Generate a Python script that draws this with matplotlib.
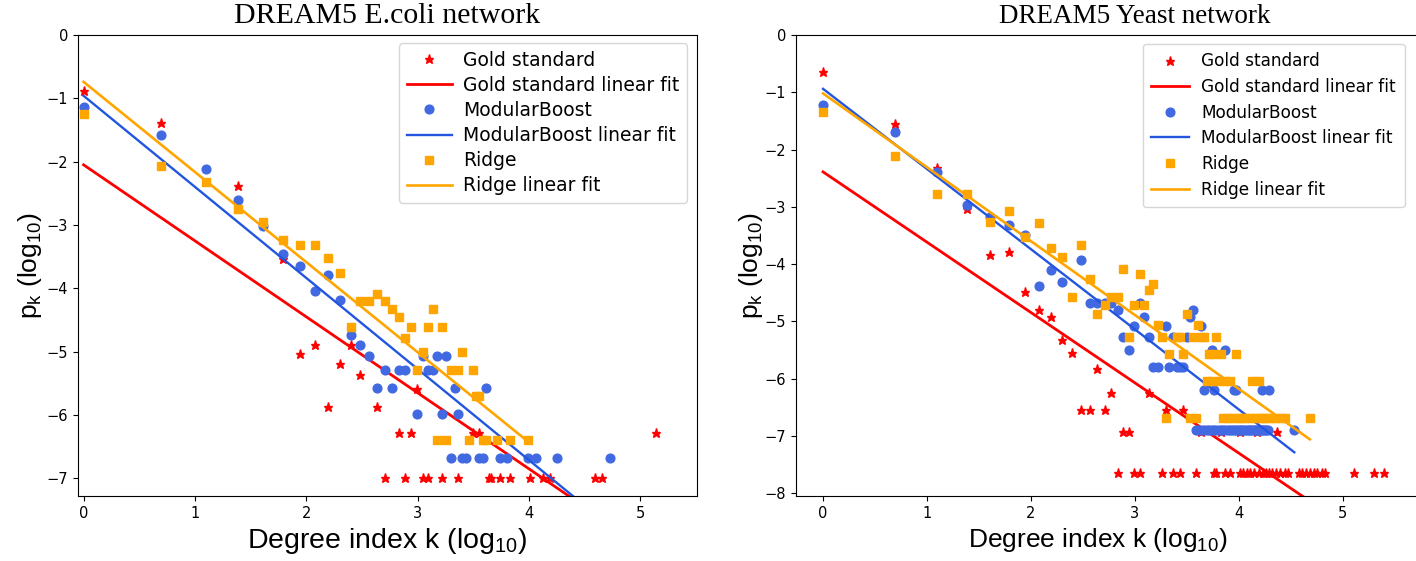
import matplotlib.pyplot as plt
import numpy as np

# DREAM5 E.coli network
ecoli_gold_x = [0, 0.693, 1.386, 1.792, 1.946, 2.079, 2.197, 2.303, 2.398, 2.485, 2.639, 2.833,
                2.944, 2.996, 3.497, 3.555, 5.142]
ecoli_gold_y = [-0.88, -1.39, -2.39, -3.53, -5.03, -4.90, -5.88, -5.19, -4.90, -5.37, -5.88, -6.29,
                -6.29, -5.59, -6.29, -6.29, -6.29]
ecoli_gold_floor_x = [2.708, 2.890, 3.045, 3.091, 3.219, 3.367, 3.638, 3.664, 3.738, 3.829, 4.007,
                      4.127, 4.190, 4.595, 4.654]
ecoli_gold_floor_y = -6.99

ecoli_mb_x = [0, 0.693, 1.099, 1.386, 1.609, 1.792, 1.946, 2.079, 2.197, 2.303, 2.398, 2.485, 2.565,
              2.639, 2.708, 2.773, 2.833, 2.890, 2.996, 3.045, 3.091, 3.135, 3.178, 3.219, 3.258, 3.332,
              3.367, 3.611]
ecoli_mb_y = [-1.13, -1.58, -2.12, -2.60, -3.02, -3.46, -3.64, -4.04, -3.79, -4.19, -4.73, -4.89, -5.07,
              -5.58, -5.29, -5.58, -5.29, -5.29, -5.99, -5.07, -5.29, -5.29, -5.07, -5.99, -5.07, -5.58,
              -5.99, -5.58]
ecoli_mb_floor_x = [3.296, 3.401, 3.434, 3.555, 3.584, 3.738, 3.807, 3.989, 4.060, 4.248, 4.727]
ecoli_mb_floor_y = -6.68

ecoli_ridge_x = [0, 0.693, 1.099, 1.386, 1.609, 1.792, 1.946, 2.079, 2.197, 2.303, 2.398, 2.485, 2.565,
                 2.639, 2.708, 2.773, 2.833, 2.890, 2.944, 2.996, 3.045, 3.091, 3.135, 3.219, 3.296,
                 3.367, 3.401, 3.497, 3.526, 3.555]
ecoli_ridge_y = [-1.25, -2.07, -2.32, -2.74, -2.95, -3.24, -3.31, -3.31, -3.52, -3.76, -4.61, -4.20,
                 -4.20, -4.09, -4.20, -4.32, -4.45, -4.79, -4.61, -5.29, -5.01, -4.61, -4.33, -4.61,
                 -5.29, -5.29, -5.01, -5.29, -5.70, -5.70]
ecoli_ridge_floor_x = [3.178, 3.258, 3.466, 3.584, 3.611, 3.714, 3.829, 3.989]
ecoli_ridge_floor_y = -6.39

# (slope, intercept) of the linear fits
ecoli_gold_fit = (-1.20, -2.05)
ecoli_mb_fit = (-1.438, -0.96)
ecoli_ridge_fit = (-1.423, -0.74)

# DREAM5 Yeast network
yeast_gold_x = [0, 0.693, 1.099, 1.386, 1.609, 1.792, 1.946, 2.079, 2.197, 2.303, 2.398, 2.485, 2.565,
                2.639, 2.708, 2.773, 2.890, 2.944, 3.135, 3.296, 3.466, 3.638, 3.829, 4.007, 4.174, 4.369]
yeast_gold_y = [-0.65, -1.56, -2.32, -3.04, -3.85, -3.79, -4.49, -4.80, -4.92, -5.32, -5.55, -6.54,
                -6.54, -5.83, -6.54, -6.26, -6.94, -6.94, -6.26, -6.54, -6.54, -6.94, -6.94, -6.94,
                -6.94, -6.94]
yeast_gold_floor_x = [2.833, 2.996, 3.045, 3.258, 3.367, 3.434, 3.584, 3.761, 3.784, 3.871, 3.912,
                      4.007, 4.043, 4.078, 4.111, 4.143, 4.190, 4.234, 4.263, 4.290, 4.317, 4.357,
                      4.394, 4.443, 4.477, 4.575, 4.605, 4.644, 4.682, 4.727, 4.754, 4.796, 4.828,
                      5.112, 5.298, 5.398]
yeast_gold_floor_y = -7.64

yeast_mb_x = [0, 0.693, 1.099, 1.386, 1.609, 1.792, 1.946, 2.079, 2.197, 2.303, 2.485, 2.565, 2.639,
              2.708, 2.773, 2.833, 2.890, 2.944, 2.996, 3.045, 3.091, 3.135, 3.178, 3.219, 3.296, 3.332,
              3.367, 3.401, 3.434, 3.466, 3.497, 3.526, 3.555, 3.638, 3.664, 3.738, 3.761, 3.871, 3.951,
              3.970, 4.220, 4.290]
yeast_mb_y = [-1.23, -1.70, -2.39, -2.96, -3.17, -3.31, -3.50, -4.39, -4.10, -4.31, -3.93, -4.68, -4.68,
              -4.68, -4.68, -4.80, -5.28, -5.50, -5.09, -4.68, -4.93, -5.28, -5.79, -5.79, -5.09, -5.79,
              -5.28, -5.79, -5.79, -5.79, -5.28, -4.92, -4.80, -5.09, -6.20, -5.50, -6.20, -5.50, -6.20,
              -6.20, -6.20, -6.20]
yeast_mb_floor_x = [3.584, 3.611, 3.638, 3.664, 3.689, 3.714, 3.738, 3.761, 3.784, 3.807, 3.829, 3.850,
                    3.871, 3.892, 3.912, 3.932, 3.951, 3.970, 3.989, 4.007, 4.025, 4.043, 4.060, 4.078,
                    4.094, 4.111, 4.127, 4.143, 4.159, 4.174, 4.190, 4.205, 4.220, 4.234, 4.248, 4.263,
                    4.277, 4.533]
yeast_mb_floor_y = -6.89

yeast_ridge_x = [0, 0.693, 1.099, 1.386, 1.609, 1.792, 1.946, 2.079, 2.197, 2.303, 2.398, 2.485, 2.565,
                 2.639, 2.708, 2.773, 2.833, 2.890, 2.944, 2.996, 3.045, 3.091, 3.135, 3.178, 3.219,
                 3.258, 3.332, 3.401, 3.434, 3.466, 3.497, 3.555, 3.611, 3.638, 3.664, 3.689, 3.714,
                 3.738, 3.761, 3.784, 3.807, 3.829, 3.871, 3.912, 3.970, 4.127, 4.190]
yeast_ridge_y = [-1.35, -2.11, -2.77, -2.78, -3.26, -3.07, -3.53, -3.29, -3.72, -3.88, -4.58, -3.66,
                 -4.26, -4.87, -4.71, -4.58, -4.58, -4.09, -5.28, -4.71, -4.17, -4.71, -4.46, -4.35,
                 -5.06, -5.28, -5.57, -5.28, -5.28, -5.57, -4.87, -5.28, -5.06, -5.28, -5.28, -6.04,
                 -5.57, -6.04, -5.57, -5.28, -6.04, -5.57, -6.04, -6.04, -5.57, -6.04, -6.04]
yeast_ridge_floor_x = [3.296, 3.526, 3.584, 3.850, 3.892, 3.932, 3.989, 4.025, 4.060, 4.111, 4.159,
                       4.205, 4.234, 4.263, 4.304, 4.344, 4.394, 4.443, 4.682]
yeast_ridge_floor_y = -6.68

yeast_gold_fit = (-1.228, -2.39)
yeast_mb_fit = (-1.40, -0.94)
yeast_ridge_fit = (-1.29, -1.02)

RED = "#ff0000"
BLUE_MARK = "#4169e1"
BLUE_LINE = "#2255e0"
ORANGE = "#ffa500"
W, H = 1416, 561


def join(x, y, floor_x, floor_y):
    xs = np.concatenate([x, floor_x])
    ys = np.concatenate([y, np.full(len(floor_x), floor_y)])
    return xs, ys


def fit_line(ax, xs, fit, color, label, lw):
    slope, intercept = fit
    xx = np.array([xs.min(), xs.max()])
    ax.plot(xx, slope * xx + intercept, color=color, linewidth=lw, label=label)


def draw_panel(ax, gold, mb, ridge, fits, title, xlim, ylim, title_size, label_size, ylabelpad, legend_kw):
    gx, gy = join(*gold)
    mx, my = join(*mb)
    rx, ry = join(*ridge)

    ax.plot(gx, gy, linestyle="none", marker="*", markersize=6.5, color=RED, label="Gold standard")
    fit_line(ax, gx, fits[0], RED, "Gold standard linear fit", 2.0)
    ax.plot(mx, my, linestyle="none", marker="o", markersize=6.3, color=BLUE_MARK, label="ModularBoost")
    fit_line(ax, mx, fits[1], BLUE_LINE, "ModularBoost linear fit", 1.7)
    ax.plot(rx, ry, linestyle="none", marker="s", markersize=6.3, color=ORANGE, label="Ridge")
    fit_line(ax, rx, fits[2], ORANGE, "Ridge linear fit", 1.9)

    ax.set_xlim(xlim)
    ax.set_ylim(ylim)
    ax.set_xticks([0, 1, 2, 3, 4, 5])
    ax.set_yticks(np.arange(0, ylim[0] - 0.01, -1))
    ax.tick_params(labelsize=10.5)
    ax.set_title(title, fontsize=title_size, family="Liberation Serif", pad=8.5)
    ax.set_xlabel(r"Degree index k (log$_{\mathregular{10}}$)", fontsize=label_size,
                  family="Liberation Sans")
    ax.set_ylabel(r"p$_{\mathregular{k}}$ (log$_{\mathregular{10}}$)", fontsize=19,
                  family="Liberation Sans", labelpad=ylabelpad)
    ax.legend(loc="upper left", bbox_transform=ax.figure.transFigure, borderaxespad=0, **legend_kw)


fig = plt.figure(figsize=(W / 100, H / 100), dpi=100)
ax1 = fig.add_axes([78 / W, 1 - 496 / H, 619 / W, 461 / H])
# the right panel runs past the image edge, as in the original
ax2 = fig.add_axes([796 / W, 1 - 496 / H, 630 / W, 461 / H])

draw_panel(
    ax1,
    (ecoli_gold_x, ecoli_gold_y, ecoli_gold_floor_x, ecoli_gold_floor_y),
    (ecoli_mb_x, ecoli_mb_y, ecoli_mb_floor_x, ecoli_mb_floor_y),
    (ecoli_ridge_x, ecoli_ridge_y, ecoli_ridge_floor_x, ecoli_ridge_floor_y),
    (ecoli_gold_fit, ecoli_mb_fit, ecoli_ridge_fit),
    "DREAM5 E.coli network",
    (-0.05, 5.51),
    (-7.28, 0),
    21.5,
    20.5,
    2,
    dict(bbox_to_anchor=(399 / W, 1 - 43 / H), fontsize=13.5, labelspacing=0.33, handlelength=2.4,
         handletextpad=0.6, borderpad=0.4),
)
draw_panel(
    ax2,
    (yeast_gold_x, yeast_gold_y, yeast_gold_floor_x, yeast_gold_floor_y),
    (yeast_mb_x, yeast_mb_y, yeast_mb_floor_x, yeast_mb_floor_y),
    (yeast_ridge_x, yeast_ridge_y, yeast_ridge_floor_x, yeast_ridge_floor_y),
    (yeast_gold_fit, yeast_mb_fit, yeast_ridge_fit),
    "DREAM5 Yeast network",
    (-0.26, 5.80),
    (-8.05, 0),
    19.5,
    19,
    0,
    dict(bbox_to_anchor=(1143 / W, 1 - 44 / H), fontsize=12.2, labelspacing=0.45, handlelength=2.2,
         handletextpad=0.75, borderpad=0.5),
)
# centre the right panel's title and x label where they sit in the original
ax2.title.set_x((1135 - 796) / 630)
ax2.xaxis.label.set_x((1098 - 796) / 630)

fig.savefig("out.png", dpi=100)
